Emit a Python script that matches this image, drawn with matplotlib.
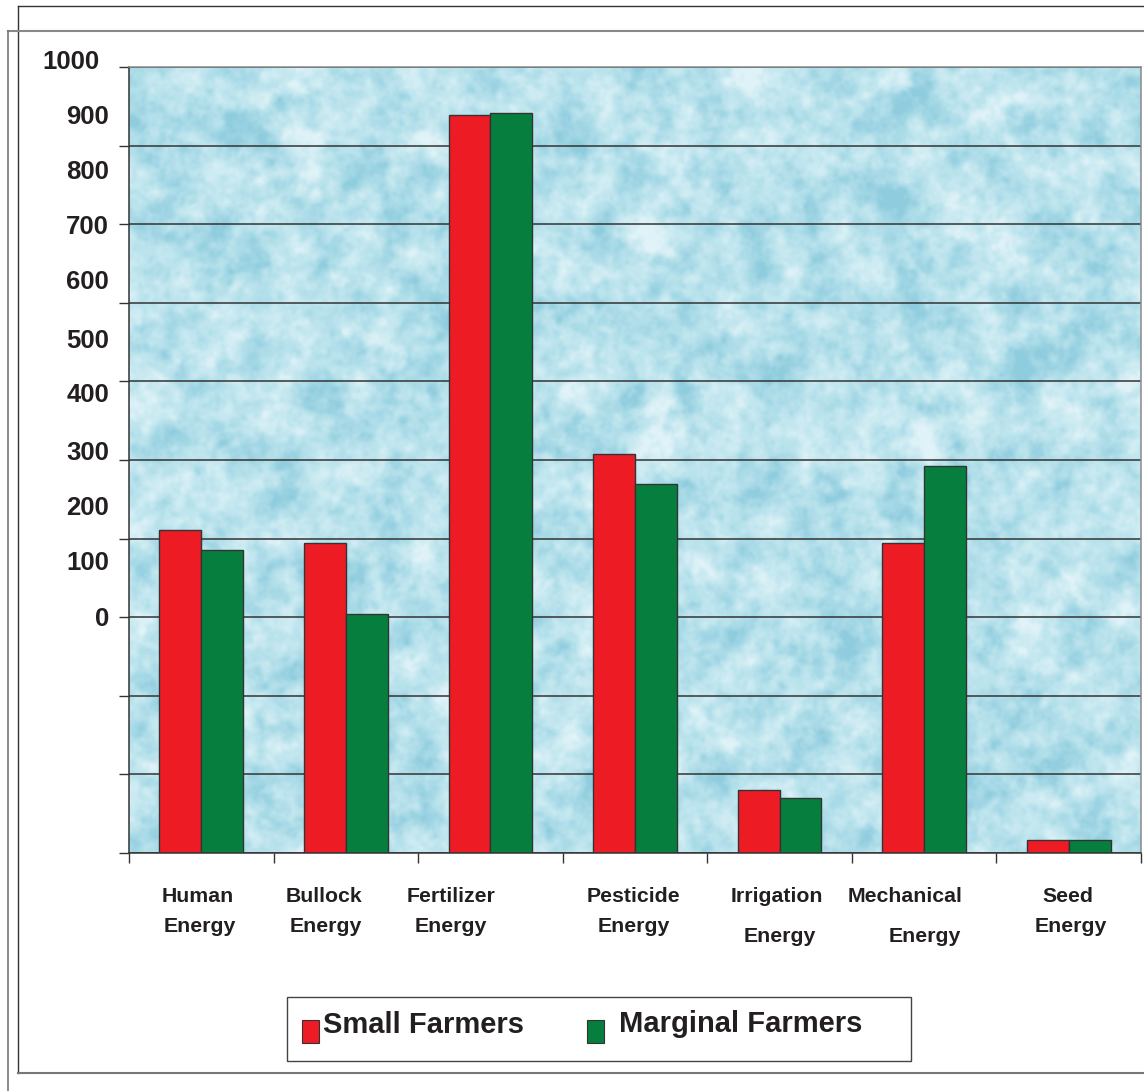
import numpy as np
import matplotlib
matplotlib.use("Agg")
import matplotlib.pyplot as plt
from matplotlib.lines import Line2D
from matplotlib.patches import Rectangle

plt.rcParams["font.family"] = ["Liberation Sans", "DejaVu Sans"]
plt.rcParams["font.weight"] = "bold"

# ---------------------------------------------------------------------------
# Data
# ---------------------------------------------------------------------------
source_names = ["Human", "Bullock", "Fertilizer", "Pesticide",
                "Irrigation", "Mechanical", "Seed"]
source_suffix = ["Energy"] * 7
small_farmers = [411, 395, 939, 507, 80, 395, 16]
marginal_farmers = [385, 304, 942, 469, 70, 492, 16]
series_names = ["Small Farmers", "Marginal Farmers"]
y_tick_text = ["0", "100", "200", "300", "400", "500",
               "600", "700", "800", "900", "1000"]

# ---------------------------------------------------------------------------
# Layout (pixel units on a 1144 x 1091 canvas)
# ---------------------------------------------------------------------------
W, H = 1144, 1091
RED = "#ed1c24"
GREEN = "#067f3e"
INK = "#231f20"


def fx(x):
    return x / W


def fy(y):
    return 1 - y / H


fig = plt.figure(figsize=(W / 100, H / 100), dpi=100)
fig.patch.set_facecolor("white")

# page frame lines
for (x0, y0, x1, y1, c, lw) in [
    (18, 6, 1144, 6, "#333333", 1.0),
    (18, 6, 18, 1073, "#333333", 1.0),
    (18, 1073, 1144, 1073, "#777777", 1.5),
    (8, 31, 1144, 31, "#888888", 1.5),
    (8, 31, 8, 1091, "#777777", 1.2),
]:
    fig.add_artist(Line2D([fx(x0), fx(x1)], [fy(y0), fy(y1)],
                          transform=fig.transFigure, color=c, lw=lw))

ax = fig.add_axes([fx(129), fy(853), fx(1141) - fx(129), fy(67) - fy(853)])

# water-droplet style backdrop
rng = np.random.default_rng(11)


def smooth(a, sigma):
    ky = np.fft.fftfreq(a.shape[0])[:, None]
    kx = np.fft.fftfreq(a.shape[1])[None, :]
    k = np.exp(-2 * (np.pi * sigma) ** 2 * (kx ** 2 + ky ** 2))
    out = np.real(np.fft.ifft2(np.fft.fft2(a) * k))
    return (out - out.mean()) / out.std()


th, tw = 400, 520
tex = (smooth(rng.standard_normal((th, tw)), 6)
       + 0.7 * smooth(rng.standard_normal((th, tw)), 2.0)
       + 0.35 * smooth(rng.standard_normal((th, tw)), 0.8))
tex = np.clip(tex / 3.4, -1, 1)
base = np.array([184, 226, 236]) / 255
dark = np.array([142, 204, 222]) / 255
light = np.array([224, 243, 248]) / 255
t = tex[..., None]
img = np.where(t < 0, base + (dark - base) * (-t), base + (light - base) * t)
ax.imshow(img, extent=(-0.5, 6.5, 0, 1000), aspect="auto",
          interpolation="bilinear", zorder=0)

# bars
x = np.arange(len(source_names))
bw = 0.29
ax.bar(x - bw / 2, small_farmers, bw, color=RED, edgecolor="#333333",
       linewidth=1.0, zorder=2)
ax.bar(x + bw / 2, marginal_farmers, bw, color=GREEN, edgecolor="#333333",
       linewidth=1.0, zorder=2)

ax.set_xlim(-0.5, 6.5)
ax.set_ylim(0, 1000)
ax.set_yticks(np.arange(0, 1001, 100))
ax.set_yticklabels([])
ax.set_xticks(np.arange(-0.5, 7, 1))
ax.set_xticklabels([])
ax.tick_params(axis="both", direction="out", length=7.5, width=1,
               color="#333333")
ax.yaxis.grid(True, color="#333333", linewidth=1.1)
ax.set_axisbelow(True)
for side in ("left", "bottom"):
    ax.spines[side].set_color("#333333")
for side in ("top", "right"):
    ax.spines[side].set_color("#8a8a8a")
for s in ax.spines.values():
    s.set_linewidth(1.1)
    s.set_zorder(3)

# y labels
label_y = [619, 563, 508, 453, 395, 341, 282, 227, 172, 117, 62]
for txt, yy in zip(y_tick_text, label_y):
    xr = 100 if txt == "1000" else 109
    fig.text(fx(xr), fy(yy), txt, ha="right", va="center",
             fontsize=18.5, fontweight="bold", color=INK)

# category labels
name_xy = [(198, 897), (324, 897), (451, 897), (633, 897),
           (777, 897), (905, 897), (1068, 897)]
suffix_xy = [(200, 926), (326, 926), (451, 926), (634, 926),
             (780, 936), (925, 936), (1071, 926)]
for name, suf, (nx, ny), (sx, sy) in zip(source_names, source_suffix,
                                         name_xy, suffix_xy):
    fig.text(fx(nx), fy(ny), name, ha="center", va="center",
             fontsize=15.3, fontweight="bold", color=INK)
    fig.text(fx(sx), fy(sy), suf, ha="center", va="center",
             fontsize=15.3, fontweight="bold", color=INK)

# legend
fig.add_artist(Rectangle((fx(287), fy(1061)), fx(911) - fx(287),
                         fy(997) - fy(1061), transform=fig.transFigure,
                         facecolor="white", edgecolor="#444444", lw=1.0))
for (rx, tx, ty), col, name in zip([(302, 323, 1025), (587, 619, 1024)],
                                   [RED, GREEN], series_names):
    fig.add_artist(Rectangle((fx(rx), fy(1043)), fx(rx + 17) - fx(rx),
                             fy(1020) - fy(1043), transform=fig.transFigure,
                             facecolor=col, edgecolor="#333333", lw=0.8))
    fig.text(fx(tx), fy(ty), name, ha="left", va="center",
             fontsize=21, fontweight="bold", color=INK)

fig.savefig("out.png", dpi=100)
